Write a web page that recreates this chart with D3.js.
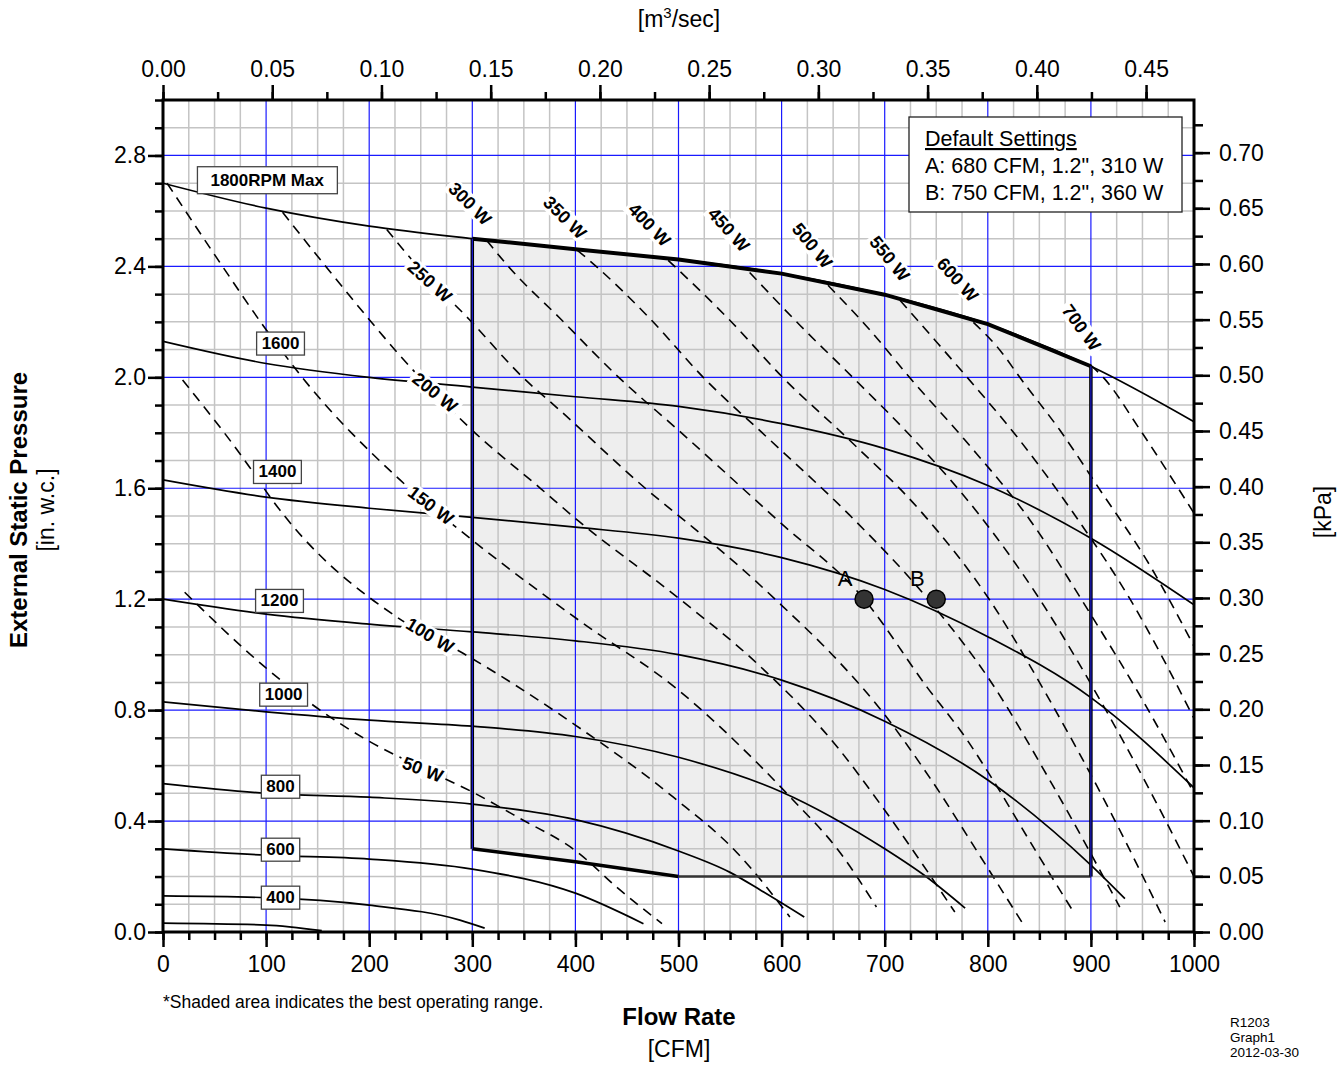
<!DOCTYPE html>
<html>
<head>
<meta charset="utf-8">
<script src="https://cdn.jsdelivr.net/npm/d3@7"></script>
<style>
body { margin: 0; background: #fff; }
svg { display: block; font-family: Arial, "Liberation Sans", Helvetica, sans-serif; }
</style>
</head>
<body>
<div id="chart"></div>
<script>
// fan curves: flow [CFM], external static pressure [in. w.c.]
var rpm1800 = [[0,2.70],[100,2.61],[200,2.545],[300,2.50],[400,2.462],[500,2.425],[600,2.374],[700,2.298],[800,2.192],[900,2.04],[1000,1.84]];
var rpm1600 = [[0,2.13],[100,2.05],[200,2.00],[300,1.965],[400,1.93],[500,1.895],[600,1.833],[700,1.743],[800,1.61],[900,1.42],[1000,1.18]];
var rpm1400 = [[0,1.63],[100,1.568],[200,1.528],[300,1.495],[400,1.46],[500,1.42],[600,1.35],[700,1.235],[800,1.065],[900,0.845],[1000,0.52]];
var rpm1200 = [[0,1.20],[100,1.146],[200,1.11],[300,1.082],[400,1.05],[500,1.0],[600,0.908],[700,0.76],[800,0.548],[900,0.241],[933,0.12]];
var rpm1000 = [[0,0.83],[100,0.794],[200,0.764],[300,0.742],[400,0.705],[500,0.63],[600,0.505],[700,0.30],[740,0.20],[778,0.086]];
var rpm800 = [[0,0.535],[100,0.50],[200,0.486],[300,0.461],[400,0.405],[500,0.292],[550,0.215],[580,0.15],[622,0.054]];
var rpm600 = [[0,0.30],[100,0.277],[200,0.263],[300,0.227],[400,0.14],[466,0.03]];
var rpm400 = [[0,0.13],[100,0.124],[200,0.097],[288,0.043],[312,0.014]];
var rpm200 = [[0,0.032],[100,0.025],[154,0.005]];

// constant power lines
var pw50 = [[21,1.225],[99,0.955],[143,0.825],[198,0.692],[249,0.595],[300,0.505],[346,0.41],[402,0.288],[440,0.162],[484,0.03]];
var pw100 = [[19,1.99],[84,1.676],[104,1.568],[227,1.135],[291,1.005],[400,0.746],[495,0.486],[557,0.285],[608,0.054]];
var pw150 = [[4,2.70],[57,2.404],[99,2.177],[135,2.0],[227,1.64],[300,1.413],[406,1.117],[500,0.872],[576,0.611],[608,0.488],[657,0.285],[692,0.09]];
var pw200 = [[116,2.595],[157,2.404],[249,2.0],[300,1.809],[366,1.6],[402,1.485],[500,1.204],[576,0.969],[654,0.667],[695,0.465],[734,0.259],[768,0.072]];
var pw250 = [[217,2.533],[246,2.404],[298,2.205],[349,2.0],[385,1.881],[470,1.593],[514,1.459],[560,1.315],[600,1.178],[657,0.969],[695,0.807],[744,0.555],[792,0.277],[836,0.018]];
var pw300 = [[314,2.494],[334,2.404],[385,2.213],[442,2.0],[500,1.809],[596,1.485],[680,1.2],[741,0.883],[780,0.692],[805,0.548],[846,0.295],[882,0.079]];
var pw350 = [[402,2.458],[419,2.404],[472,2.213],[524,2.0],[589,1.773],[666,1.503],[742,1.2],[802,0.908],[860,0.548],[928,0.09]];
var pw400 = [[490,2.422],[550,2.205],[601,2.0],[666,1.773],[734,1.521],[802,1.196],[860,0.836],[918,0.44],[972,0.036]];
var pw450 = [[569,2.378],[618,2.187],[669,2.0],[729,1.773],[792,1.503],[851,1.196],[909,0.836],[957,0.512],[1000,0.2]];
var pw500 = [[645,2.332],[686,2.169],[724,2.0],[778,1.773],[841,1.485],[899,1.15],[948,0.85],[1000,0.50]];
var pw550 = [[715,2.277],[749,2.133],[780,2.0],[831,1.773],[885,1.50],[938,1.20],[1000,0.77]];
var pw600 = [[786,2.198],[812,2.097],[831,2.0],[870,1.809],[909,1.593],[957,1.323],[1000,1.03]];
var pw700 = [[900,2.043],[912,2.0],[948,1.809],[1000,1.51]];

// best operating range (bottom edge), default points
var rangeBottom = [[300,0.30],[400,0.253],[500,0.20],[900,0.20]];
var defaultPoints = [["A",680,1.2],["B",750,1.2]];
var defaultText = ["A: 680 CFM, 1.2\", 310 W", "B: 750 CFM, 1.2\", 360 W"];

// tick values
var cfmTicks = d3.range(0, 1001, 100);
var inTicks = d3.range(0, 8).map(function(i) { return i * 0.4; });
var m3sTicks = d3.range(0, 10).map(function(i) { return i * 0.05; });
var kpaTicks = d3.range(0, 15).map(function(i) { return i * 0.05; });

var rpmCurves = [rpm1800, rpm1600, rpm1400, rpm1200, rpm1000, rpm800, rpm600, rpm400, rpm200];
var powerLines = [pw50, pw100, pw150, pw200, pw250, pw300, pw350, pw400, pw450, pw500, pw550, pw600, pw700];

// label placement (data units) -- annotations only
var rpmLabels = [
    {t: "1800RPM Max", x: 101, y: 2.713, px: 13, py: 6},
    {t: "1600", x: 114, y: 2.124, px: 5, py: 4},
    {t: "1400", x: 111, y: 1.661, px: 5, py: 4},
    {t: "1200", x: 113, y: 1.196, px: 5, py: 4},
    {t: "1000", x: 117, y: 0.858, px: 5, py: 4},
    {t: "800", x: 114, y: 0.526, px: 5, py: 4},
    {t: "600", x: 114, y: 0.299, px: 5, py: 4},
    {t: "400", x: 114, y: 0.126, px: 5, py: 4}
];
var powerLabels = [
    {t: "50 W", x: 252, y: 0.587, a: 21},
    {t: "100 W", x: 259, y: 1.07, a: 31},
    {t: "150 W", x: 260, y: 1.539, a: 37},
    {t: "200 W", x: 264, y: 1.946, a: 39},
    {t: "250 W", x: 259, y: 2.346, a: 42},
    {t: "300 W", x: 298, y: 2.627, a: 45},
    {t: "350 W", x: 390, y: 2.577, a: 45},
    {t: "400 W", x: 472, y: 2.551, a: 46},
    {t: "450 W", x: 549, y: 2.533, a: 48},
    {t: "500 W", x: 630, y: 2.476, a: 51},
    {t: "550 W", x: 705, y: 2.429, a: 51},
    {t: "600 W", x: 771, y: 2.353, a: 48},
    {t: "700 W", x: 891, y: 2.18, a: 54}
];

var CFM_PER_M3S = 2118.88;
var KPA_PER_IN = 0.249089;

var width = 1342, height = 1067;
var x = d3.scaleLinear().domain([0, 1000]).range([163, 1194]);
var y = d3.scaleLinear().domain([0, 3]).range([932, 100]);
var xTop = d3.scaleLinear().domain([0, 1000 / CFM_PER_M3S]).range([163, 1194]);
var yRight = d3.scaleLinear().domain([0, 3 * KPA_PER_IN]).range([932, 100]);

var svg = d3.select("#chart")
    .append("svg")
    .attr("width", width)
    .attr("height", height);

svg.append("defs")
    .append("clipPath")
    .attr("id", "plotClip")
    .append("rect")
    .attr("x", 163).attr("y", 100)
    .attr("width", 1031).attr("height", 832);

var line = d3.line()
    .x(function(d) { return x(d[0]); })
    .y(function(d) { return y(d[1]); });
var smooth = d3.line()
    .x(function(d) { return x(d[0]); })
    .y(function(d) { return y(d[1]); })
    .curve(d3.curveMonotoneX);

// shaded operating range
var rangeTop = rpm1800.filter(function(d) { return d[0] >= 300 && d[0] <= 900; });
var rangePoly = rangeTop.concat(rangeBottom.slice().reverse());
svg.append("path")
    .attr("d", line(rangePoly) + "Z")
    .attr("fill", "#eeeeee");

// grid
var grid = svg.append("g");
var minorX = d3.range(0, 1001, 25).filter(function(v) { return v % 100 !== 0; });
var minorY = d3.range(0, 31).filter(function(i) { return i % 4 !== 0; }).map(function(i) { return i / 10; });
grid.selectAll(".gx").data(minorX).enter().append("line")
    .attr("x1", function(d) { return x(d); }).attr("x2", function(d) { return x(d); })
    .attr("y1", y(0)).attr("y2", y(3))
    .attr("stroke", "#c4c4c4").attr("stroke-width", 1.5);
grid.selectAll(".gy").data(minorY).enter().append("line")
    .attr("y1", function(d) { return y(d); }).attr("y2", function(d) { return y(d); })
    .attr("x1", x(0)).attr("x2", x(1000))
    .attr("stroke", "#c4c4c4").attr("stroke-width", 1.5);
grid.selectAll(".bx").data(cfmTicks).enter().append("line")
    .attr("x1", function(d) { return x(d); }).attr("x2", function(d) { return x(d); })
    .attr("y1", y(0)).attr("y2", y(3))
    .attr("stroke", "#1a1aff").attr("stroke-width", 1.2);
grid.selectAll(".by").data(inTicks).enter().append("line")
    .attr("y1", function(d) { return y(d); }).attr("y2", function(d) { return y(d); })
    .attr("x1", x(0)).attr("x2", x(1000))
    .attr("stroke", "#1a1aff").attr("stroke-width", 1.2);

var plot = svg.append("g").attr("clip-path", "url(#plotClip)");

// power lines
plot.selectAll(".pw").data(powerLines).enter().append("path")
    .attr("d", smooth)
    .attr("fill", "none")
    .attr("stroke", "#000")
    .attr("stroke-width", 1.6)
    .attr("stroke-dasharray", "10,7");

// fan curves
plot.selectAll(".rpm").data(rpmCurves).enter().append("path")
    .attr("d", smooth)
    .attr("fill", "none")
    .attr("stroke", "#000")
    .attr("stroke-width", 1.7);

// range outline
plot.append("path")
    .attr("d", line(rangeTop))
    .attr("fill", "none").attr("stroke", "#000").attr("stroke-width", 4);
plot.append("path")
    .attr("d", line(rangeBottom.slice(0, 3)))
    .attr("fill", "none").attr("stroke", "#000").attr("stroke-width", 3.5);
plot.append("path")
    .attr("d", line(rangeBottom.slice(2)))
    .attr("fill", "none").attr("stroke", "#333").attr("stroke-width", 2.5);
[[rangeTop[0], rangeBottom[0]], [rangeTop[rangeTop.length - 1], rangeBottom[rangeBottom.length - 1]]].forEach(function(e) {
    plot.append("path").attr("d", line(e))
	.attr("fill", "none").attr("stroke", "#000").attr("stroke-width", 3.5);
    plot.append("path").attr("d", line(e))
	.attr("fill", "none").attr("stroke", "#2020ff").attr("stroke-width", 1);
});

// power labels with white backing
var pl = svg.selectAll(".pl").data(powerLabels).enter().append("g")
    .attr("transform", function(d) { return "translate(" + x(d.x) + "," + y(d.y) + ") rotate(" + d.a + ")"; });
pl.append("text")
    .attr("text-anchor", "middle")
    .attr("dy", "0.36em")
    .style("font-size", "18px")
    .style("font-weight", "bold")
    .text(function(d) { return d.t; });
pl.each(function() {
    var g = d3.select(this);
    var b = g.select("text").node().getBBox();
    g.insert("rect", "text")
	.attr("x", b.x - 3).attr("y", b.y + 1)
	.attr("width", b.width + 6).attr("height", b.height - 2)
	.attr("fill", "#fff");
});

// rpm labels in boxes
var rl = svg.selectAll(".rl").data(rpmLabels).enter().append("g")
    .attr("transform", function(d) { return "translate(" + x(d.x) + "," + y(d.y) + ")"; });
rl.append("text")
    .attr("text-anchor", "middle")
    .attr("dy", "0.36em")
    .style("font-size", "17px")
    .style("font-weight", "bold")
    .text(function(d) { return d.t; });
rl.each(function(d) {
    var g = d3.select(this);
    var b = g.select("text").node().getBBox();
    g.insert("rect", "text")
	.attr("x", b.x - d.px).attr("y", b.y - d.py + 2)
	.attr("width", b.width + 2 * d.px).attr("height", b.height + 2 * d.py - 4)
	.attr("fill", "#fff").attr("stroke", "#444").attr("stroke-width", 1.3);
});

// default points
svg.selectAll(".dp").data(defaultPoints).enter().append("circle")
    .attr("cx", function(d) { return x(d[1]); })
    .attr("cy", function(d) { return y(d[2]); })
    .attr("r", 9)
    .attr("fill", "#333").attr("stroke", "#000").attr("stroke-width", 1.5);
svg.selectAll(".dpl").data(defaultPoints).enter().append("text")
    .attr("x", function(d) { return x(d[1]) - 19; })
    .attr("y", function(d) { return y(d[2]) - 13; })
    .attr("text-anchor", "middle")
    .style("font-size", "22px")
    .text(function(d) { return d[0]; });

// default settings box
var box = svg.append("g").attr("transform", "translate(909,117)");
box.append("rect").attr("width", 273).attr("height", 95)
    .attr("fill", "#fff").attr("stroke", "#222").attr("stroke-width", 1.3);
box.append("text").attr("x", 16).attr("y", 29)
    .style("font-size", "21.5px").style("text-decoration", "underline")
    .text("Default Settings");
box.selectAll(".ds").data(defaultText).enter().append("text")
    .attr("x", 16).attr("y", function(d, i) { return 56 + i * 27; })
    .style("font-size", "21.5px")
    .text(function(d) { return d; });

// axes
function styleAxis(g) {
    g.select(".domain").remove();
    g.selectAll(".tick line").attr("stroke", "#000").attr("stroke-width", 2.5);
    g.selectAll("text").style("font-size", "23px").attr("fill", "#000").style("font-family", "Arial, 'Liberation Sans', sans-serif");
}
svg.append("g").attr("transform", "translate(0,932)")
    .call(d3.axisBottom(x).tickValues(d3.range(0, 1001, 25)).tickSize(8).tickFormat(""))
    .call(styleAxis);
svg.append("g").attr("transform", "translate(0,932)")
    .call(d3.axisBottom(x).tickValues(cfmTicks).tickSize(15).tickPadding(9).tickFormat(d3.format("d")))
    .call(styleAxis);
svg.append("g").attr("transform", "translate(163,0)")
    .call(d3.axisLeft(y).tickValues(d3.range(0, 31).map(function(i) { return i / 10; })).tickSize(8).tickFormat(""))
    .call(styleAxis);
svg.append("g").attr("transform", "translate(163,0)")
    .call(d3.axisLeft(y).tickValues(inTicks).tickSize(15).tickPadding(2).tickFormat(d3.format(".1f")))
    .call(styleAxis);
svg.append("g").attr("transform", "translate(0,100)")
    .call(d3.axisTop(xTop).tickValues(d3.range(0, 19).map(function(i) { return i * 0.025; })).tickSize(8).tickFormat(""))
    .call(styleAxis);
svg.append("g").attr("transform", "translate(0,100)")
    .call(d3.axisTop(xTop).tickValues(m3sTicks).tickSize(15).tickPadding(8).tickFormat(d3.format(".2f")))
    .call(styleAxis);
svg.append("g").attr("transform", "translate(1194,0)")
    .call(d3.axisRight(yRight).tickValues(d3.range(0, 30).map(function(i) { return i * 0.025; })).tickSize(9).tickFormat(""))
    .call(styleAxis);
svg.append("g").attr("transform", "translate(1194,0)")
    .call(d3.axisRight(yRight).tickValues(kpaTicks).tickSize(16).tickPadding(9).tickFormat(d3.format(".2f")))
    .call(styleAxis);

// frame
svg.append("rect")
    .attr("x", 163).attr("y", 100).attr("width", 1031).attr("height", 832)
    .attr("fill", "none").attr("stroke", "#000").attr("stroke-width", 3);

// titles
var topTitle = svg.append("text").attr("x", 679).attr("y", 27).attr("text-anchor", "middle").style("font-size", "23px");
topTitle.append("tspan").text("[m");
topTitle.append("tspan").attr("dy", -9).style("font-size", "15px").text("3");
topTitle.append("tspan").attr("dy", 9).text("/sec]");

svg.append("text")
    .attr("transform", "translate(27,510) rotate(-90)")
    .attr("text-anchor", "middle")
    .style("font-size", "24px").style("font-weight", "bold")
    .text("External Static Pressure");
svg.append("text")
    .attr("transform", "translate(54,510) rotate(-90)")
    .attr("text-anchor", "middle")
    .style("font-size", "23px")
    .text("[in. w.c.]");
svg.append("text")
    .attr("transform", "translate(1331,512) rotate(-90)")
    .attr("text-anchor", "middle")
    .style("font-size", "23px")
    .text("[kPa]");
svg.append("text")
    .attr("x", 679).attr("y", 1025).attr("text-anchor", "middle")
    .style("font-size", "24px").style("font-weight", "bold")
    .text("Flow Rate");
svg.append("text")
    .attr("x", 679).attr("y", 1057).attr("text-anchor", "middle")
    .style("font-size", "23px")
    .text("[CFM]");
svg.append("text")
    .attr("x", 163).attr("y", 1008)
    .style("font-size", "17.5px")
    .text("*Shaded area indicates the best operating range.");
svg.selectAll(".stamp").data(["R1203", "Graph1", "2012-03-30"]).enter().append("text")
    .attr("x", 1230).attr("y", function(d, i) { return 1027 + i * 15; })
    .style("font-size", "13.5px")
    .text(function(d) { return d; });
</script>
</body>
</html>
